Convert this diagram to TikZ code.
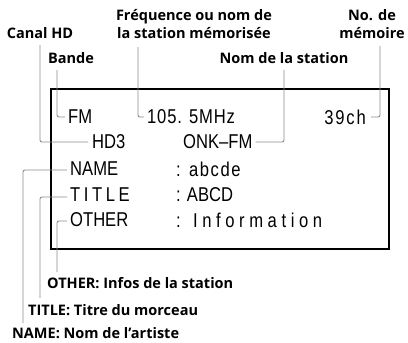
\documentclass[tikz,border=0pt]{standalone}
\usepackage{fontspec}
\usetikzlibrary{positioning}
\newfontfamily\lcdfont{Liberation Sans}[FakeStretch=0.83]
\newfontfamily\lblfont{Open Sans}
\definecolor{leadgray}{RGB}{140,140,140}

\tikzset{
  lcd/.style={font=\lcdfont\fontsize{20}{20}\selectfont,inner sep=0pt,anchor=west},
  lbl/.style={font=\lblfont\bfseries\fontsize{14.5}{18}\selectfont,inner sep=0pt,align=center},
  lead/.style={leadgray,line width=0.9pt,rounded corners=2pt},
}

\begin{document}
\begin{tikzpicture}[x=1pt,y=-1pt]
\useasboundingbox (0,0) rectangle (408,343);

%% -- display frame ------------------------------------------------------
\draw[black,line width=1.2pt] (51,89) rectangle (389,249);

%% -- display contents ---------------------------------------------------
\node[lcd] (band) at (68,117) {FM};
\node[lcd] (freq) at (147,117) {\addfontfeature{LetterSpace=4}105. 5MHz};
\node[lcd,anchor=east] (mem) at (366,117) {\addfontfeature{LetterSpace=9}39ch};
\node[lcd] (hd) at (92,142) {HD3};
\node[lcd] (stn) at (183,142) {ONK–FM};
\node[lcd] (name) at (70,169) {NAME};
\node[lcd] (nameval) at (176,169) {\addfontfeature{LetterSpace=8}: abcde};
\node[lcd] (title) at (70,195) {\addfontfeature{LetterSpace=18}TITLE};
\node[lcd] (titleval) at (176,195) {: ABCD};
\node[lcd] (other) at (70,220) {OTHER};
\node[lcd] (otherval) at (176,220) {\addfontfeature{LetterSpace=23}: Information};

%% -- labels ------------------------------------------------------------
\node[lbl] (lcanal) at (40,33) {Canal HD};
\node[lbl] (lfreq) at (194,24) {Fréquence ou nom de\\la station mémorisée};
\node[lbl] (lmem) at (372,24) {No. de\\mémoire};
\node[lbl] (lband) at (71,58) {Bande};
\node[lbl] (lstn) at (284,58) {Nom de la station};
\node[lbl,anchor=west] (lother) at (47,283) {OTHER: Infos de la station};
\node[lbl,anchor=west] (ltitle) at (28,310) {TITLE: Titre du morceau};
\node[lbl,anchor=west] (lname) at (12,333) {NAME: Nom de l’artiste};

%% -- leader tops and bottoms ---------------------------------------------
\coordinate (tcanal) at (40,45);
\coordinate (tfreq) at (138,47);
\coordinate (tmem) at (380,46);
\coordinate (tband) at (57,70);
\coordinate (tstn) at (284,70);
\coordinate (bname) at (23,323);
\coordinate (btitle) at (40,298);
\coordinate (bother) at (57,272);

%% -- leaders -------------------------------------------------------------
\draw[lead] (tcanal) |- ([xshift=-4pt]hd.west);
\draw[lead] (tfreq) |- ([xshift=-3pt]freq.west);
\draw[lead] (tmem) |- ([xshift=5pt]mem.east);
\draw[lead] (tband) |- ([xshift=-3pt]band.west);
\draw[lead] (tstn) |- ([xshift=3pt]stn.east);
\draw[lead] (bname) |- ([xshift=-3pt,yshift=-1pt]name.west);
\draw[lead] (btitle) |- ([xshift=-3pt,yshift=-2pt]title.west);
\draw[lead] (bother) |- ([xshift=-3pt,yshift=-1pt]other.west);

\end{tikzpicture}
\end{document}
